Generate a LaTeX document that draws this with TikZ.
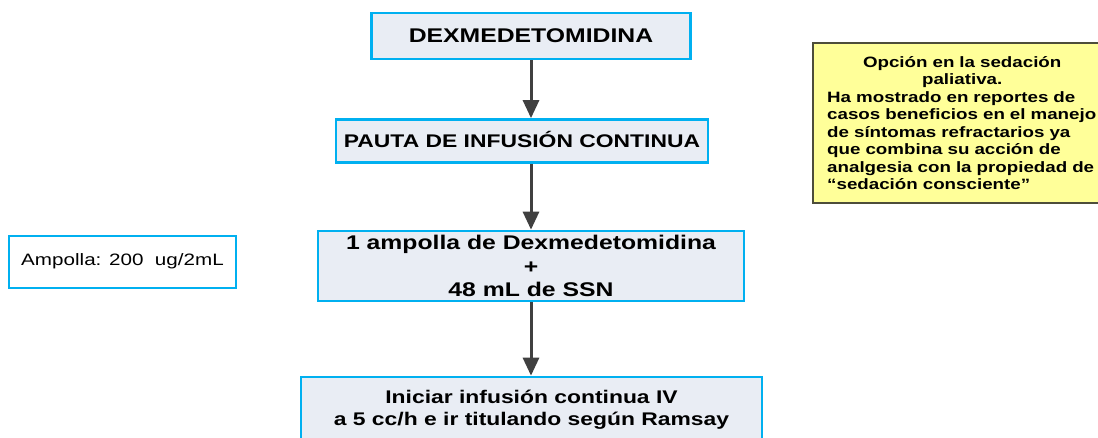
\documentclass[tikz,border=0pt]{standalone}
\usepackage{fontspec}
\setmainfont{Liberation Sans}[FakeStretch=1.25]
\usetikzlibrary{arrows.meta}
\definecolor{cyanb}{HTML}{00B0F0}
\definecolor{boxfill}{HTML}{E9EDF4}
\definecolor{arrowc}{HTML}{404040}
\definecolor{notefill}{HTML}{FFFF99}
\definecolor{noteborder}{HTML}{4D4D3A}
\begin{document}
\begin{tikzpicture}[x=1pt,y=-1pt,
  flowbox/.style={draw=cyanb, line width=2.7pt, fill=boxfill, inner sep=0pt, align=center},
  infobox/.style={draw=cyanb, line width=2.7pt, fill=white, inner sep=0pt},
  notebox/.style={fill=notefill, inner ysep=0pt, inner xsep=14pt},
  noteline/.style={draw=noteborder, line width=1.8pt},
  flowarrow/.style={draw=arrowc, line width=3pt, -{Triangle[width=16pt,length=18pt]}}]
\useasboundingbox (0,0) rectangle (1098,438);
\clip (0,0) rectangle (1098,438);
\fill[white] (0,0) rectangle (1098,438);
\node[flowbox, minimum width=319pt, minimum height=46pt, text height=14pt, text depth=0pt,
      font=\bfseries\fontsize{19.8pt}{23pt}\selectfont] (dex) at (531,36) {DEXMEDETOMIDINA};
\node[flowbox, minimum width=372pt, minimum height=43pt, text height=13pt, text depth=0pt,
      font=\bfseries\fontsize{18.3pt}{22pt}\selectfont] (pauta) at (522,141) {PAUTA DE INFUSIÓN CONTINUA};
\node[flowbox, minimum width=426pt, minimum height=70pt,
      font=\bfseries\fontsize{19.8pt}{23.5pt}\selectfont] (mix) at (531,266)
      {1 ampolla de Dexmedetomidina\\+\\48 mL de SSN};
\node[flowbox, minimum width=461pt, minimum height=65pt,
      font=\bfseries\fontsize{18.3pt}{22pt}\selectfont] (ini) at (531.5,409.5)
      {Iniciar infusión continua IV\\a 5 cc/h e ir titulando según Ramsay};
\node[infobox, minimum width=227pt, minimum height=52pt, text height=12pt, text depth=4pt,
      font=\fontsize{16.5pt}{20pt}\selectfont] (amp) at (122.5,262) {Ampolla: 200\ \ ug/2mL};
\node[notebox, anchor=west, minimum height=160pt, text width=285pt,
      font=\bfseries\fontsize{15pt}{17.5pt}\selectfont] (note) at (813,123)
      {\raggedright\makebox[270pt][c]{Opción en la sedación}\\
       \makebox[270pt][c]{paliativa.}\\
       Ha mostrado en reportes de\\
       casos beneficios en el manejo\\
       de síntomas refractarios ya\\
       que combina su acción de\\
       analgesia con la propiedad de\\
       “sedación consciente”};
\draw[noteline] (note.north east) -- (note.north west) -- (note.south west) -- (note.south east);
\draw[flowarrow] (dex.south) -- (dex.south |- pauta.north);
\draw[flowarrow] (mix.north |- pauta.south) -- (mix.north);
\draw[flowarrow] (mix.south) -- (mix.south |- ini.north);
\end{tikzpicture}
\end{document}
